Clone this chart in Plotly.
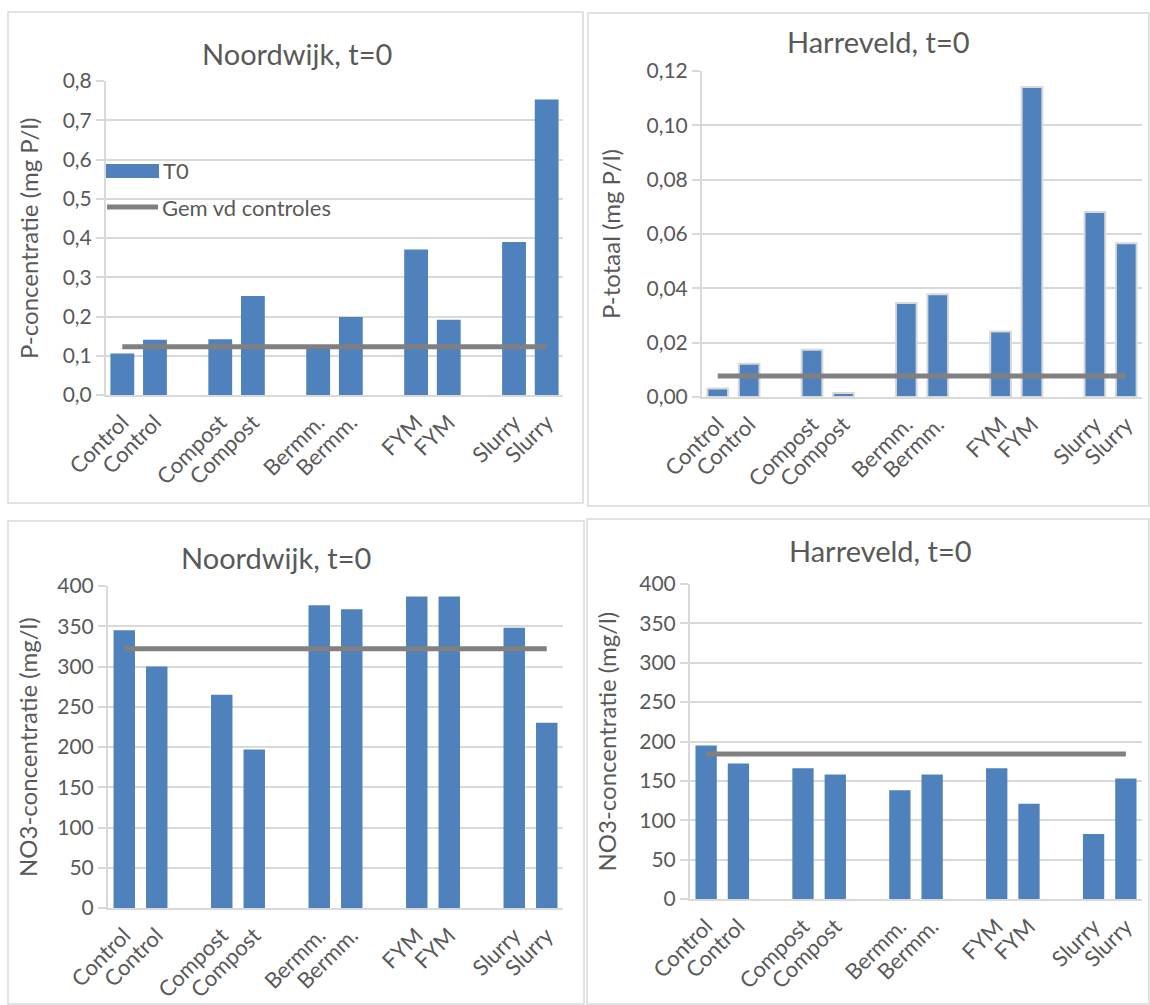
import plotly.graph_objects as go

# ---------------- data ----------------
categories = ["Control", "Control", "", "Compost", "Compost", "", "Bermm.", "Bermm.", "",
              "FYM", "FYM", "", "Slurry", "Slurry"]

p_noordwijk = [0.106, 0.141, None, 0.142, 0.252, None, 0.118, 0.199, None,
               0.371, 0.192, None, 0.390, 0.753]
p_noordwijk_mean = 0.123

p_harreveld = [0.0031, 0.0122, None, 0.0174, 0.0015, None, 0.0346, 0.0378, None,
               0.0241, 0.1141, None, 0.0681, 0.0566]
p_harreveld_mean = 0.0077

no3_noordwijk = [345, 300, None, 265, 197, None, 376, 371, None,
                 387, 387, None, 348, 230]
no3_noordwijk_mean = 322

no3_harreveld = [195, 172, None, 166, 158, None, 138, 158, None,
                 166, 121, None, 82.5, 153]
no3_harreveld_mean = 184

titles = ["Noordwijk, t=0", "Harreveld, t=0", "Noordwijk, t=0", "Harreveld, t=0"]
y_titles = ["P-concentratie (mg P/l)", "P-totaal (mg P/l)",
            "NO3-concentratie (mg/l)", "NO3-concentratie (mg/l)"]
legend_names = ["T0", "Gem vd controles"]

# ---------------- style ----------------
W, H = 1150, 1005
BAR = "#4f81bd"
MEAN = "#808080"
GRID = "#d9d9d9"
TXT = "#595959"
FONT = "Lato"

def px_x(v):
    return v / W

def px_y(v):
    return 1 - v / H

xs = list(range(len(categories)))

panels = [
    # (values, mean, x-domain px, y-domain px, range, dtick, fmt, barwidth, outline)
    (p_noordwijk, p_noordwijk_mean, (106, 563), (395, 81), [0, 0.8], 0.1, ".1f", 0.73, 0),
    (p_harreveld, p_harreveld_mean, (702, 1142), (397, 71), [0, 0.12], 0.02, ".2f", 0.66, 2),
    (no3_noordwijk, no3_noordwijk_mean, (108, 563), (908, 586), [0, 400], 50, "d", 0.66, 0),
    (no3_harreveld, no3_harreveld_mean, (690, 1142), (899, 584), [0, 400], 50, "d", 0.66, 0),
]

fig = go.Figure()
layout = {}
annotations = []
shapes = []

title_pos = [(297, 53), (878, 42), (276, 557), (880, 550)]
ytitle_x = [29, 611, 27, 606]
borders = [(8, 12, 583, 503), (588, 13, 1149, 506), (8, 521, 584, 1004), (587, 519, 1149, 1004)]

for i, (vals, mean, xd, yd, rng, dt, fmt, bw, ol) in enumerate(panels):
    n = i + 1
    xa = "x" if n == 1 else f"x{n}"
    ya = "y" if n == 1 else f"y{n}"
    fig.add_trace(go.Bar(
        x=xs, y=vals, xaxis=xa, yaxis=ya, width=bw,
        marker=dict(color=BAR, line=dict(color=GRID, width=ol)),
        name=legend_names[0], showlegend=False))
    fig.add_trace(go.Scatter(
        x=xs, y=[mean] * len(categories), xaxis=xa, yaxis=ya, mode="lines",
        line=dict(color=MEAN, width=5), name=legend_names[1], showlegend=False))
    xkey = "xaxis" if n == 1 else f"xaxis{n}"
    ykey = "yaxis" if n == 1 else f"yaxis{n}"
    layout[xkey] = dict(
        domain=[px_x(xd[0]), px_x(xd[1])], anchor=ya, automargin=False,
        range=[-0.5, len(categories) - 0.5], tickmode="array",
        tickvals=xs, ticktext=categories, tickangle=-45, ticklabelstandoff=4,
        showgrid=False, zeroline=False, showline=True, linecolor=GRID, linewidth=2,
        ticks="", tickfont=dict(family=FONT, size=22, color=TXT), fixedrange=True)
    layout[ykey] = dict(
        domain=[px_y(yd[0]), px_y(yd[1])], anchor=xa, automargin=False,
        range=rng, dtick=dt, tick0=0, tickformat=fmt,
        showgrid=True, gridcolor=GRID, gridwidth=2, zeroline=False,
        showline=True, linecolor=GRID, linewidth=2,
        ticks="outside", ticklen=8, tickcolor=GRID, tickwidth=2,
        tickfont=dict(family=FONT, size=21, color=TXT), fixedrange=True)
    tx, ty = title_pos[i]
    annotations.append(dict(text=titles[i], x=px_x(tx), y=px_y(ty), xref="paper", yref="paper",
                            showarrow=False, xanchor="center", yanchor="middle",
                            font=dict(family=FONT, size=29, color=TXT)))
    annotations.append(dict(text=y_titles[i], x=px_x(ytitle_x[i]), y=px_y((yd[0] + yd[1]) / 2),
                            xref="paper", yref="paper", showarrow=False, textangle=-90,
                            xanchor="center", yanchor="middle",
                            font=dict(family=FONT, size=24, color=TXT)))
    bx0, by0, bx1, by1 = borders[i]
    shapes.append(dict(type="rect", xref="paper", yref="paper",
                       x0=px_x(bx0), x1=px_x(bx1), y0=px_y(by0), y1=px_y(by1),
                       line=dict(color=GRID, width=1.5), layer="below"))

# manual legend inside first panel
shapes.append(dict(type="rect", xref="paper", yref="paper",
                   x0=px_x(106), x1=px_x(159), y0=px_y(178), y1=px_y(164),
                   fillcolor=BAR, line=dict(width=0)))
shapes.append(dict(type="line", xref="paper", yref="paper",
                   x0=px_x(107), x1=px_x(158), y0=px_y(207), y1=px_y(207),
                   line=dict(color=MEAN, width=5)))
annotations.append(dict(text=legend_names[0], x=px_x(161), y=px_y(171), xref="paper", yref="paper",
                        showarrow=False, xanchor="left", yanchor="middle",
                        font=dict(family=FONT, size=22, color=TXT)))
annotations.append(dict(text=legend_names[1], x=px_x(160), y=px_y(207), xref="paper", yref="paper",
                        showarrow=False, xanchor="left", yanchor="middle",
                        font=dict(family=FONT, size=22, color=TXT)))

fig.update_layout(
    width=W, height=H, margin=dict(l=0, r=0, t=0, b=0, autoexpand=False),
    paper_bgcolor="white", plot_bgcolor="white",
    separators=",.", showlegend=False, barmode="overlay",
    font=dict(family=FONT, color=TXT),
    annotations=annotations, shapes=shapes, **layout)

fig.write_html("out.html", config={"displayModeBar": False},
               post_script="document.body.style.margin='0';document.body.style.overflow='hidden';")
